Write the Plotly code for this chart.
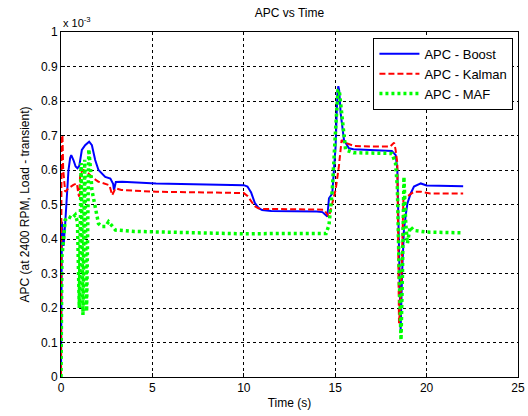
import plotly.graph_objects as go

# APC estimates (units of 1e-3) against time in seconds
t_boost = [0, 0.02, 0.05, 0.1, 0.14, 0.23, 0.32, 0.41, 0.5, 0.56, 0.68, 0.8, 0.9, 1.0,
           1.14, 1.32, 1.54, 1.69, 1.87, 2.05, 2.42, 2.7, 2.85, 2.9, 3.0, 3.35, 5.2,
           8.0, 10.0, 10.2, 10.4, 10.6, 10.8, 11.0, 11.5, 14.0, 14.3, 14.57, 14.66,
           14.84, 15.02, 15.12, 15.17, 15.22, 15.3, 15.48, 15.75, 16.0, 17.0, 18.1,
           18.31, 18.4, 18.5, 18.58, 18.66, 18.76, 18.86, 18.95, 19.13, 19.31, 19.68,
           20.0, 22.0]
apc_boost = [0, 0.44, 0.45, 0.41, 0.38, 0.445, 0.523, 0.6, 0.635, 0.643, 0.629, 0.61,
             0.605, 0.612, 0.658, 0.672, 0.682, 0.672, 0.629, 0.6, 0.58, 0.575, 0.56,
             0.542, 0.565, 0.566, 0.561, 0.558, 0.556, 0.552, 0.535, 0.505, 0.49,
             0.484, 0.481, 0.48, 0.478, 0.465, 0.518, 0.532, 0.667, 0.822, 0.843, 0.83,
             0.764, 0.687, 0.663, 0.66, 0.658, 0.655, 0.643, 0.6, 0.35, 0.136, 0.3,
             0.426, 0.47, 0.503, 0.532, 0.552, 0.561, 0.555, 0.553]

t_kalman = [0, 0.03, 0.08, 0.12, 0.23, 0.41, 0.68, 0.87, 0.95, 1.0, 1.05, 1.23, 1.5,
            1.78, 2.05, 2.42, 2.65, 2.8, 2.98, 3.3, 5.2, 8.0, 10.0, 10.2, 10.4, 10.6,
            10.8, 11.0, 11.5, 14.0, 14.38, 14.66, 14.93, 15.02, 15.2, 15.35, 15.5,
            16.0, 17.0, 18.0, 18.22, 18.3, 18.4, 18.49, 18.55, 18.62, 18.73, 18.85,
            19.31, 19.7, 20.2, 22.0]
apc_kalman = [0, 0.70, 0.70, 0.60, 0.537, 0.547, 0.557, 0.561, 0.53, 0.523, 0.59, 0.6,
              0.59, 0.576, 0.566, 0.561, 0.556, 0.527, 0.547, 0.542, 0.537, 0.535,
              0.533, 0.525, 0.51, 0.495, 0.489, 0.487, 0.487, 0.487, 0.485, 0.465,
              0.52, 0.542, 0.61, 0.687, 0.68, 0.67, 0.668, 0.668, 0.679, 0.66, 0.62,
              0.156, 0.2, 0.281, 0.513, 0.52, 0.537, 0.537, 0.532, 0.532]

t_maf = [0, 0.05, 0.14, 0.23, 0.41, 0.6, 0.78, 0.9, 1.0, 1.1, 1.2, 1.3, 1.4, 1.52,
         1.62, 1.69, 1.87, 2.05, 2.24, 2.43, 2.6, 2.98, 4.0, 8.0, 10.0, 12.0, 14.5,
         14.66, 14.84, 15.02, 15.15, 15.22, 15.39, 15.57, 16.0, 17.0, 18.1, 18.3,
         18.4, 18.5, 18.6, 18.68, 18.76, 18.86, 18.95, 19.1, 19.3, 20.0, 22.0]
apc_maf = [0, 0.35, 0.397, 0.455, 0.465, 0.46, 0.47, 0.45, 0.2, 0.62, 0.18, 0.63,
           0.19, 0.66, 0.6, 0.542, 0.494, 0.445, 0.436, 0.436, 0.45, 0.426, 0.422,
           0.418, 0.415, 0.416, 0.416, 0.44, 0.542, 0.716, 0.83, 0.832, 0.745, 0.658,
           0.65, 0.648, 0.648, 0.62, 0.55, 0.3, 0.107, 0.3, 0.58, 0.445, 0.387, 0.436,
           0.425, 0.42, 0.418]

x_ticks = [0, 5, 10, 15, 20, 25]
y_ticks = [0, 0.1, 0.2, 0.3, 0.4, 0.5, 0.6, 0.7, 0.8, 0.9, 1.0]
y_tick_text = ["0", "0.1", "0.2", "0.3", "0.4", "0.5", "0.6", "0.7", "0.8", "0.9", "1"]

FONT = "Liberation Sans, Arial, Helvetica, sans-serif"

fig = go.Figure()
fig.add_trace(go.Scatter(x=t_boost, y=apc_boost, mode="lines", name="APC - Boost",
                         line=dict(color="#0000ff", width=2)))
fig.add_trace(go.Scatter(x=t_kalman, y=apc_kalman, mode="lines", name="APC - Kalman",
                         line=dict(color="#ff0000", width=2, dash="6px,3px")))
fig.add_trace(go.Scatter(x=t_maf, y=apc_maf, mode="lines", name="APC - MAF",
                         line=dict(color="#00ff00", width=3.5, dash="3px,3px")))

axis_common = dict(
    showline=True, linecolor="black", linewidth=1, mirror=True,
    ticks="inside", ticklen=4, tickcolor="black",
    showgrid=True, gridcolor="black", gridwidth=1, griddash="3px,3px",
    zeroline=False, automargin=False,
    tickfont=dict(family=FONT, size=12, color="black"),
)

fig.update_xaxes(range=[0, 25], tickvals=x_ticks, **axis_common,
                 title=dict(text="Time (s)", font=dict(family=FONT, size=12, color="black"),
                            standoff=4))
fig.update_yaxes(range=[0, 1], tickvals=y_ticks, ticktext=y_tick_text, **axis_common,
                 title=dict(text="APC (at 2400 RPM, Load - transient)",
                            font=dict(family=FONT, size=12, color="black"), standoff=8))

fig.add_annotation(text="x 10<sup>-3</sup>", xref="paper", yref="paper", x=0, y=1,
                   xanchor="left", yanchor="bottom", yshift=1, showarrow=False,
                   font=dict(family=FONT, size=11, color="black"))

fig.update_layout(
    width=528, height=416,
    margin=dict(l=61, r=10, t=32, b=39, autoexpand=False),
    paper_bgcolor="white", plot_bgcolor="white",
    title=dict(text="APC vs Time", x=0.5, xref="paper", y=1 - 13 / 416, yanchor="middle",
               font=dict(family=FONT, size=12, color="black")),
    legend=dict(x=0.99, y=0.983, xanchor="right", yanchor="top",
                bordercolor="black", borderwidth=1, bgcolor="white",
                itemwidth=40, font=dict(family=FONT, size=13, color="black")),
    showlegend=True,
)

fig.write_html("out.html")
